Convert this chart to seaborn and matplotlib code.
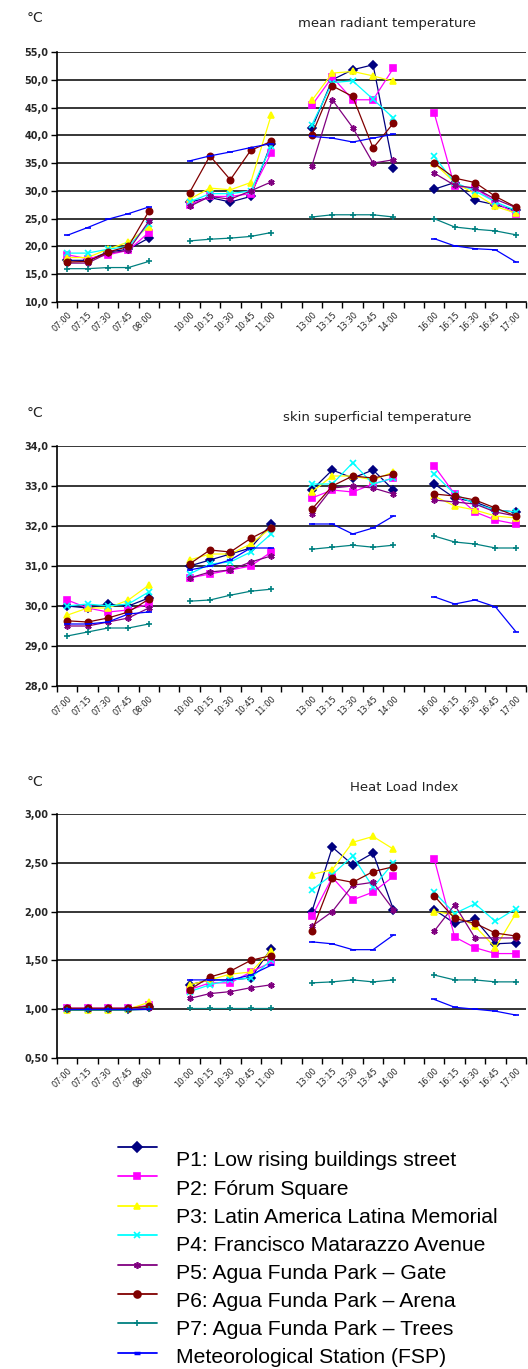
import numpy as np
import pandas as pd
import matplotlib
matplotlib.use("Agg")
import matplotlib.pyplot as plt
import seaborn as sns
from matplotlib.ticker import FuncFormatter, FixedLocator

sns.set_style("white")
plt.rcParams["font.family"] = ["DejaVu Sans"]

# categories on the x axis (blank = gap between measuring periods)
times = ["07:00", "07:15", "07:30", "07:45", "08:00", "",
         "10:00", "10:15", "10:30", "10:45", "11:00", "",
         "13:00", "13:15", "13:30", "13:45", "14:00", "",
         "16:00", "16:15", "16:30", "16:45", "17:00"]

sites = ["P1: Low rising buildings street",
         "P2: Fórum Square",
         "P3: Latin America Latina Memorial",
         "P4: Francisco Matarazzo Avenue",
         "P5: Agua Funda Park – Gate",
         "P6: Agua Funda Park – Arena",
         "P7: Agua Funda Park – Trees",
         "Meteorological Station (FSP)"]
keys = ["P1", "P2", "P3", "P4", "P5", "P6", "P7", "MET"]

colors = ["#000080", "#FF00FF", "#FFFF00", "#00FFFF",
          "#800080", "#800000", "#008080", "#0000FF"]
markers = ["D", "s", "^", "x", (6, 2, 0), "o", "+", "_"]

# mean radiant temperature (°C), 4 periods x 5 readings
mrt = {
    "P1": [17.5, 17.5, 19.0, 19.5, 21.5, 28.0, 28.8, 28.0, 29.0, 38.5,
           41.3, 50.0, 51.8, 52.7, 34.2, 30.3, 31.5, 28.3, 27.5, 26.5],
    "P2": [18.5, 17.8, 18.5, 19.3, 22.5, 27.5, 29.0, 29.0, 29.5, 36.8,
           45.4, 50.5, 46.4, 46.4, 52.1, 44.0, 30.8, 30.5, 28.0, 25.8],
    "P3": [18.0, 18.0, 19.5, 20.8, 23.5, 28.5, 30.5, 30.2, 31.5, 43.6,
           46.3, 51.2, 51.5, 50.7, 49.7, 35.0, 31.5, 29.5, 27.2, 26.0],
    "P4": [18.8, 18.8, 19.5, 20.0, 24.0, 28.0, 29.5, 29.5, 30.0, 38.0,
           41.9, 49.5, 49.8, 46.5, 43.1, 36.2, 31.5, 30.0, 28.0, 26.5],
    "P5": [17.0, 17.0, 18.8, 19.3, 24.5, 27.2, 29.0, 28.5, 30.0, 31.6,
           34.5, 46.4, 41.4, 35.0, 35.6, 33.2, 31.0, 30.5, 28.5, 27.0],
    "P6": [17.2, 17.3, 19.0, 20.0, 26.3, 29.7, 36.3, 32.0, 37.3, 38.9,
           40.1, 48.9, 47.0, 37.7, 42.2, 35.0, 32.3, 31.5, 29.0, 27.1],
    "P7": [16.0, 16.0, 16.2, 16.2, 17.3, 21.0, 21.3, 21.5, 21.8, 22.5,
           25.3, 25.7, 25.7, 25.7, 25.3, 25.0, 23.5, 23.1, 22.8, 22.1],
    "MET": [22.0, 23.4, 24.9, 25.9, 27.1, 35.4, 36.3, 37.0, 37.8, 38.5,
            39.8, 39.5, 38.8, 39.5, 40.2, 21.4, 20.1, 19.6, 19.4, 17.2],
}

# skin superficial temperature (°C)
skin = {
    "P1": [30.0, 29.95, 30.05, 30.0, 30.2, 31.0, 31.15, 31.3, 31.45, 32.05,
           32.9, 33.4, 33.2, 33.4, 32.9, 33.05, 32.7, 32.6, 32.4, 32.35],
    "P2": [30.15, 29.95, 29.85, 29.9, 30.05, 30.7, 30.8, 30.9, 31.0, 31.35,
           32.7, 32.9, 32.85, 33.05, 33.2, 33.5, 32.8, 32.35, 32.15, 32.05],
    "P3": [29.77, 29.95, 29.95, 30.15, 30.52, 31.15, 31.3, 31.3, 31.55, 31.95,
           32.85, 33.25, 33.25, 33.15, 33.35, 32.75, 32.5, 32.4, 32.25, 32.2],
    "P4": [30.0, 30.05, 30.0, 30.05, 30.35, 30.8, 31.05, 31.1, 31.35, 31.8,
           33.05, 33.05, 33.58, 33.05, 33.2, 33.3, 32.8, 32.55, 32.4, 32.35],
    "P5": [29.5, 29.5, 29.6, 29.7, 29.95, 30.7, 30.85, 30.9, 31.1, 31.25,
           32.3, 32.95, 33.0, 32.95, 32.8, 32.65, 32.6, 32.55, 32.35, 32.25],
    "P6": [29.63, 29.6, 29.7, 29.85, 30.17, 31.05, 31.4, 31.35, 31.69, 31.95,
           32.42, 33.0, 33.25, 33.2, 33.3, 32.8, 32.75, 32.65, 32.45, 32.25],
    "P7": [29.25, 29.35, 29.45, 29.45, 29.55, 30.12, 30.15, 30.27, 30.37, 30.42,
           31.42, 31.47, 31.52, 31.47, 31.52, 31.75, 31.6, 31.55, 31.45, 31.45],
    "MET": [29.55, 29.55, 29.6, 29.8, 29.85, 30.9, 31.0, 31.15, 31.45, 31.45,
            32.05, 32.05, 31.8, 31.95, 32.25, 30.23, 30.05, 30.15, 29.98, 29.36],
}

# heat load index
hli = {
    "P1": [1.0, 1.0, 1.0, 1.0, 1.02, 1.25, 1.3, 1.3, 1.32, 1.62,
           2.0, 2.66, 2.48, 2.6, 2.02, 2.02, 1.88, 1.92, 1.67, 1.68],
    "P2": [1.01, 1.01, 1.01, 1.01, 1.04, 1.2, 1.27, 1.27, 1.38, 1.48,
           1.95, 2.35, 2.12, 2.2, 2.36, 2.54, 1.74, 1.63, 1.57, 1.57],
    "P3": [0.99, 0.99, 0.99, 1.0, 1.07, 1.25, 1.3, 1.36, 1.38, 1.6,
           2.38, 2.43, 2.71, 2.77, 2.64, 2.0, 1.97, 1.85, 1.63, 1.98],
    "P4": [1.0, 1.0, 1.0, 1.0, 1.02, 1.18, 1.25, 1.3, 1.32, 1.5,
           2.22, 2.38, 2.57, 2.25, 2.5, 2.2, 1.98, 2.08, 1.9, 2.03],
    "P5": [1.0, 1.0, 1.0, 1.0, 1.01, 1.11, 1.16, 1.18, 1.22, 1.25,
           1.85, 2.0, 2.27, 2.3, 2.02, 1.8, 2.07, 1.73, 1.73, 1.73],
    "P6": [1.01, 1.01, 1.01, 1.01, 1.03, 1.2, 1.33, 1.39, 1.5, 1.55,
           1.8, 2.34, 2.3, 2.41, 2.46, 2.16, 1.93, 1.88, 1.78, 1.75],
    "P7": [0.99, 0.99, 0.99, 0.99, 1.0, 1.01, 1.01, 1.01, 1.01, 1.01,
           1.27, 1.28, 1.3, 1.28, 1.3, 1.35, 1.3, 1.3, 1.28, 1.28],
    "MET": [1.0, 1.0, 1.0, 1.0, 1.0, 1.3, 1.3, 1.3, 1.35, 1.45,
            1.69, 1.67, 1.61, 1.61, 1.76, 1.1, 1.02, 1.0, 0.98, 0.94],
}

panels = [
    (mrt, "mean radiant temperature", (10, 55), 5, "{:.1f}",
     [57, 52, 526, 302], 18, 24, 387),
    (skin, "skin superficial temperature", (28, 34), 1, "{:.1f}",
     [57, 446, 526, 686], 413, 418, 377),
    (hli, "Heat Load Index", (0.5, 3.0), 0.5, "{:.2f}",
     [57, 814, 526, 1058], 782, 787, 404),
]

W, H = 528, 1369
fig = plt.figure(figsize=(W / 100, H / 100), dpi=100)

pos = [i for i, t in enumerate(times) if t]
period = [i // 5 for i in range(len(pos))]

for data, title, ylim, step, fmt, box, cy, ty, tx in panels:
    x0, y0, x1, y1 = box
    ax = fig.add_axes([x0 / W, 1 - y1 / H, (x1 - x0) / W, (y1 - y0) / H])
    for k, c, m in zip(keys, colors, markers):
        df = pd.DataFrame({"pos": pos, "val": data[k], "period": period})
        sns.lineplot(data=df, x="pos", y="val", units="period", estimator=None,
                     color=c, marker=m, markersize=4.5 if m != "_" else 4,
                     markeredgecolor=c, markerfacecolor=c, markeredgewidth=1.2,
                     linewidth=0.9, ax=ax, legend=False)
    ax.set_xlim(-0.5, len(times) - 0.5)
    ax.set_ylim(*ylim)
    yt = np.arange(ylim[0], ylim[1] + step / 2, step)
    ax.set_yticks(yt)
    ax.yaxis.set_major_formatter(FuncFormatter(lambda v, p, f=fmt: f.format(v).replace(".", ",")))
    for v in yt[1:]:
        ax.axhline(v, color="black", lw=1.1, zorder=0)
    ax.set_xticks(range(len(times)))
    ax.set_xticklabels(times, rotation=45, ha="right", rotation_mode="anchor",
                       fontsize=6)
    ax.xaxis.set_minor_locator(FixedLocator(np.arange(-0.5, len(times), 1)))
    ax.tick_params(axis="x", which="major", length=0, pad=6)
    ax.tick_params(axis="x", which="minor", length=4, width=1, color="black",
                   bottom=True)
    ax.tick_params(axis="y", length=4, width=1, color="black", left=True,
                   labelsize=7, pad=2)
    for lab in ax.get_yticklabels():
        lab.set_fontweight("bold")
    ax.set_xlabel("")
    ax.set_ylabel("")
    for s in ("top", "right"):
        ax.spines[s].set_visible(False)
    for s in ("left", "bottom"):
        ax.spines[s].set_color("black")
        ax.spines[s].set_linewidth(1.2)
    fig.text(35 / W, 1 - cy / H, "°C", fontsize=10, ha="center", va="center",
             color="#222222")
    fig.text(tx / W, 1 - ty / H, title, fontsize=9.5, ha="center", va="center",
             color="#222222")

# legend drawn below the three panels
lax = fig.add_axes([0, 0, 1, 1], zorder=-1)
lax.set_xlim(0, W)
lax.set_ylim(H, 0)
lax.axis("off")
for i, (lab, c, m) in enumerate(zip(sites, colors, markers)):
    ym = 1147 + i * 29.4
    yt_ = 1161 + i * 28.1
    lax.plot([118, 157], [ym, ym], color=c, lw=1.3)
    lax.plot([137], [ym], marker=m, color=c, mec=c, mfc=c,
             markersize=5 if m != "_" else 4, mew=1.2 if m != "_" else 2.5)
    lax.text(176, yt_, lab, fontsize=15.2, va="center", ha="left",
             family=["Liberation Sans", "DejaVu Sans"], color="black")

fig.savefig("out.png", dpi=100)
